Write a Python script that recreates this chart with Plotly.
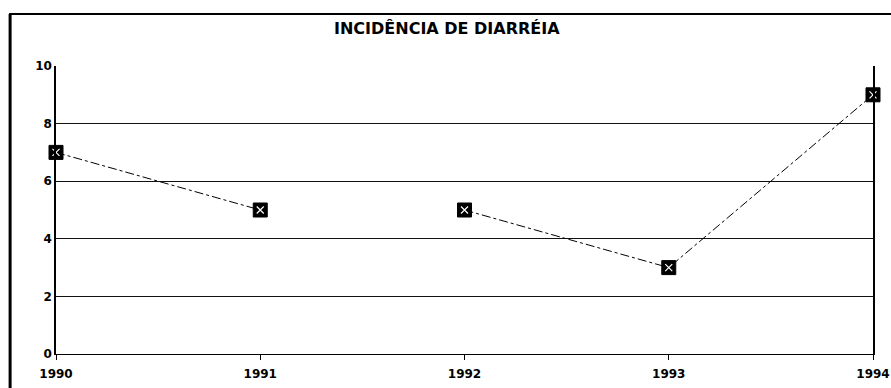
import plotly.graph_objects as go

# Incidência de diarreia por ano (a série é interrompida entre 1991 e 1992)
years_a = [1990, 1991]
values_a = [7, 5]
years_b = [1992, 1993, 1994]
values_b = [5, 3, 9]

x_ticks = [1990, 1991, 1992, 1993, 1994]
y_ticks = [0, 2, 4, 6, 8, 10]
title_text = "INCIDÊNCIA DE DIARRÉIA"

K = 1.0125  # page scale factor
W, H = round(891 * K), round(388 * K)
L, R, T, B = 55 * K, 17 * K, 65 * K, 29 * K

font_family = "DejaVu Sans, Liberation Sans, Arial, sans-serif"

fig = go.Figure()

for xs, ys in [(years_a, values_a), (years_b, values_b)]:
    fig.add_trace(go.Scatter(
        x=xs, y=ys, mode="lines+markers",
        line=dict(color="black", width=1, dash="dashdot"),
        marker=dict(symbol="square", size=14, color="black",
                    line=dict(color="black", width=1)),
        cliponaxis=False, showlegend=False, hoverinfo="x+y",
    ))
    # inner hatch of the square markers
    fig.add_trace(go.Scatter(
        x=xs, y=ys, mode="markers",
        marker=dict(symbol="x-thin", size=7, color="white",
                    line=dict(color="white", width=1.2)),
        cliponaxis=False, showlegend=False, hoverinfo="skip",
    ))

pw = W - L - R
ph = H - T - B

def px_x(p):
    return (p * K - L) / pw

def px_y(p):
    return (H - B - p * K) / ph

# outer frame: top edge and thick left edge
fig.add_shape(type="line", xref="paper", yref="paper",
              x0=px_x(8), x1=px_x(900), y0=px_y(12), y1=px_y(12),
              line=dict(color="black", width=2))
fig.add_shape(type="line", xref="paper", yref="paper",
              x0=px_x(9), x1=px_x(9), y0=px_y(12), y1=px_y(400),
              line=dict(color="black", width=3))

fig.add_annotation(
    text=title_text, xref="paper", yref="paper",
    x=px_x(447), y=px_y(27), showarrow=False,
    xanchor="center", yanchor="middle",
    font=dict(family=font_family, size=16, color="black", weight="bold"),
)

fig.update_xaxes(
    range=[1990, 1994], tickvals=x_ticks, ticktext=[str(v) for v in x_ticks],
    showgrid=False, zeroline=False,
    showline=True, linecolor="black", linewidth=1, mirror=False,
    ticks="outside", ticklen=5, tickcolor="black", ticklabelstandoff=4,
    tickfont=dict(family=font_family, size=12, color="black", weight="bold"),
)
fig.update_yaxes(
    range=[0, 10], tickvals=y_ticks, ticktext=[str(v) for v in y_ticks],
    showgrid=True, gridcolor="#111", gridwidth=1,
    zeroline=False, showline=True, linecolor="black", linewidth=1.5,
    mirror=True, ticks="", ticklabelstandoff=0,
    tickfont=dict(family=font_family, size=12, color="black", weight="bold"),
)

fig.update_layout(
    width=W, height=H,
    margin=dict(l=L, r=R, t=T, b=B),
    paper_bgcolor="white", plot_bgcolor="white",
    showlegend=False,
)

fig.write_html("out.html")
